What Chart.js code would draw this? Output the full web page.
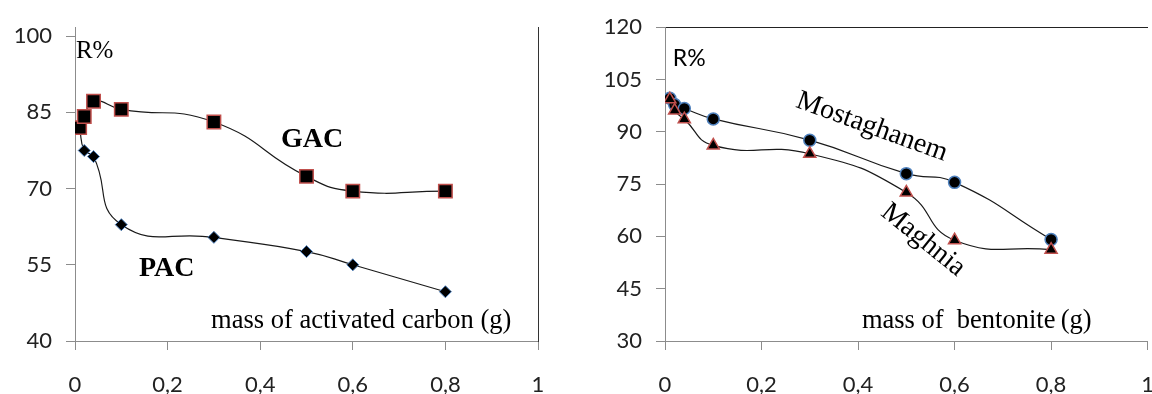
<!DOCTYPE html>
<html>
<head>
<meta charset="utf-8">
<script src="https://cdn.jsdelivr.net/npm/chart.js"></script>
<style>
html, body { margin: 0; padding: 0; background: #fff; overflow: hidden; }
body { position: relative; width: 1152px; height: 394px; }
#carbon { position: absolute; left: 0; top: 0; }
#bentonite { position: absolute; left: 576px; top: 0; }
</style>
</head>
<body>
<canvas id="carbon" width="576" height="394"></canvas>
<canvas id="bentonite" width="600" height="394"></canvas>
<script>
// left chart: activated carbon
const carbonMass = [0.01, 0.02, 0.04, 0.1, 0.3, 0.5, 0.6, 0.8];
const gacR = [82, 84.2, 87.2, 85.6, 83.1, 72.4, 69.5, 69.5];
const pacR = [82, 77.5, 76.3, 62.9, 60.4, 57.6, 55.0, 49.7];
const carbonYTicks = [40, 55, 70, 85, 100];

// right chart: bentonite
const bentoniteMass = [0.01, 0.02, 0.04, 0.1, 0.3, 0.5, 0.6, 0.8];
const mostaghanemR = [99.6, 97.8, 96.7, 93.7, 87.6, 78.0, 75.5, 59.1];
const maghniaR = [99.3, 96.1, 93.6, 86.1, 83.7, 72.6, 58.9, 56.2];
const bentoniteYTicks = [30, 45, 60, 75, 90, 105, 120];

const xTicks = [0, 0.2, 0.4, 0.6, 0.8, 1];

Chart.defaults.font.family = 'Lato';
const axisGray = '#8c8c8c';
const lineColor = '#1a1a1a';
const smooth = 0.5;

const pts = (xs, ys) => xs.map((x, i) => ({ x: x, y: ys[i] }));

// text notes placed in data coordinates
const notesPlugin = {
  id: 'notes',
  afterDatasetsDraw(chart, args, opts) {
    const { ctx } = chart;
    const sx = chart.scales.x, sy = chart.scales.y;
    opts.items.forEach(n => {
      ctx.save();
      ctx.translate(sx.getPixelForValue(n.x), sy.getPixelForValue(n.y));
      ctx.rotate((n.rot || 0) * Math.PI / 180);
      ctx.font = n.font;
      ctx.fillStyle = '#000';
      ctx.textBaseline = 'alphabetic';
      ctx.textAlign = 'left';
      ctx.fillText(n.text, 0, 0);
      ctx.restore();
    });
  }
};

function xAxis() {
  return {
    type: 'linear', min: 0, max: 1,
    afterBuildTicks: s => { s.ticks = xTicks.map(v => ({ value: v })); },
    afterFit: s => { s.height = 53; },
    ticks: {
      callback: v => String(v).replace('.', ','),
      font: { size: 22 }, color: '#222', padding: 22,
      maxRotation: 0, autoSkip: false
    },
    grid: { drawOnChartArea: false, drawTicks: true, tickLength: 9, color: axisGray },
    border: { color: axisGray, width: 1 }
  };
}

function yAxis(min, max, ticks, width) {
  return {
    type: 'linear', min: min, max: max,
    afterBuildTicks: s => { s.ticks = ticks.map(v => ({ value: v })); },
    afterFit: s => { s.width = width; },
    ticks: { font: { size: 22 }, color: '#222', padding: 14 },
    grid: { drawOnChartArea: false, drawTicks: true, tickLength: 9, color: axisGray },
    border: { color: axisGray, width: 1 }
  };
}

function frameAxis(pos, size, color) {
  const horiz = pos === 'top';
  return {
    type: 'linear', position: pos, min: 0, max: 1,
    afterFit: s => { if (horiz) s.height = size; else s.width = size; },
    ticks: { display: false },
    grid: { display: false, drawTicks: false },
    border: { color: color, width: 1 }
  };
}

new Chart(document.getElementById('carbon'), {
  type: 'line',
  data: {
    datasets: [
      {
        label: 'GAC', data: pts(carbonMass, gacR),
        borderColor: lineColor, borderWidth: 1.2, tension: smooth,
        pointStyle: 'rect', pointRadius: 9.5,
        pointBackgroundColor: '#000', pointBorderColor: '#C0504D', pointBorderWidth: 1.5
      },
      {
        label: 'PAC', data: pts(carbonMass, pacR),
        borderColor: lineColor, borderWidth: 1.2, tension: smooth,
        pointStyle: 'rectRot', pointRadius: 6,
        pointBackgroundColor: '#000', pointBorderColor: '#4F81BD', pointBorderWidth: 1
      }
    ]
  },
  options: {
    responsive: false, animation: false,
    layout: { padding: { top: 27, left: 0, right: 0, bottom: 0 } },
    plugins: {
      legend: { display: false }, tooltip: { enabled: false },
      notes: {
        items: [
          { text: 'R%', x: 0.002, y: 95.7, font: '25px "Liberation Serif"' },
          { text: 'GAC', x: 0.445, y: 78.1, font: 'bold 28px "Liberation Serif"' },
          { text: 'PAC', x: 0.138, y: 52.7, font: 'bold 28px "Liberation Serif"' },
          { text: 'mass of activated carbon (g)', x: 0.294, y: 42.6, font: '26.5px "Liberation Serif"' }
        ]
      }
    },
    scales: {
      x: xAxis(),
      y: yAxis(40, 101.77, carbonYTicks, 75),
      yRight: frameAxis('right', 38, '#333')
    }
  },
  plugins: [notesPlugin]
});

new Chart(document.getElementById('bentonite'), {
  type: 'line',
  data: {
    datasets: [
      {
        label: 'Maghnia', data: pts(bentoniteMass, maghniaR),
        borderColor: lineColor, borderWidth: 1.2, tension: smooth,
        pointStyle: 'triangle', pointRadius: 7,
        pointBackgroundColor: '#000', pointBorderColor: '#C0504D', pointBorderWidth: 1.5
      },
      {
        label: 'Mostaghanem', data: pts(bentoniteMass, mostaghanemR),
        borderColor: lineColor, borderWidth: 1.2, tension: smooth,
        pointStyle: 'circle', pointRadius: 6,
        pointBackgroundColor: '#000', pointBorderColor: '#4F81BD', pointBorderWidth: 1.5
      }
    ]
  },
  options: {
    responsive: false, animation: false,
    layout: { padding: 0 },
    plugins: {
      legend: { display: false }, tooltip: { enabled: false },
      notes: {
        items: [
          { text: 'R%', x: 0.016, y: 109, font: '23px Lato' },
          { text: 'Mostaghanem', x: 0.269, y: 97.2, rot: 20, font: '28px "Liberation Serif"' },
          { text: 'Maghnia', x: 0.445, y: 66.3, rot: 39, font: '28px "Liberation Serif"' },
          { text: 'mass of  bentonite\u2009(g)', x: 0.408, y: 33.7, font: '26.5px "Liberation Serif"' }
        ]
      }
    },
    scales: {
      x: xAxis(),
      xTop: frameAxis('top', 21, '#222'),
      y: yAxis(30, 120, bentoniteYTicks, 89)
    }
  },
  plugins: [notesPlugin]
});
</script>
</body>
</html>
